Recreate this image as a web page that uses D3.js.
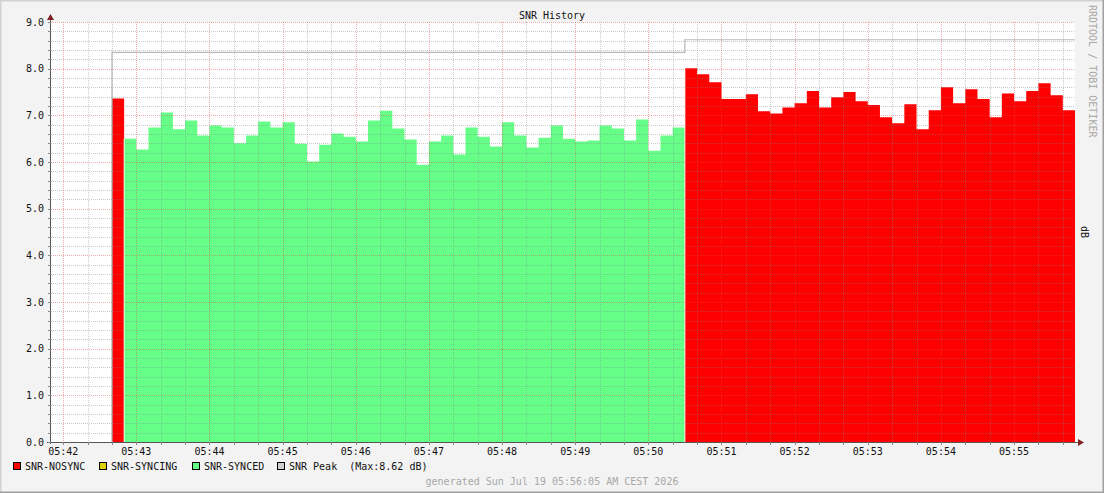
<!DOCTYPE html>
<html><head><meta charset="utf-8">
<script src="https://cdn.jsdelivr.net/npm/d3@7"></script>
<style>
html,body{margin:0;padding:0;background:#f3f3f3;}
svg{display:block;font-family:"DejaVu Sans Mono",monospace;}
</style></head><body>
<svg id="chart" width="1104" height="493"></svg>
<script>
// ---------------- data ----------------
const chartTitle = "SNR History";
const yAxisLabel = "dB";
const watermark = "RRDTOOL / TOBI OETIKER";
const footerText = "generated Sun Jul 19 05:56:05 AM CEST 2026";
const timeDomain = ["05:41:50", "05:55:50"];
const stepSeconds = 10;

const nosyncFirstStart = "05:42:40";
const nosyncFirstValues = [7.36];

const syncedStart = "05:42:50";
const syncedValues = [6.50, 6.27, 6.74, 7.06, 6.70, 6.89, 6.57, 6.78, 6.74, 6.40,
  6.57, 6.87, 6.74, 6.85, 6.39, 6.01, 6.37, 6.61, 6.54, 6.44,
  6.89, 7.10, 6.72, 6.48, 5.94, 6.44, 6.57, 6.16, 6.74, 6.54,
  6.33, 6.85, 6.57, 6.31, 6.52, 6.78, 6.50, 6.44, 6.46, 6.78,
  6.72, 6.46, 6.91, 6.24, 6.57, 6.74];

const nosyncSecondStart = "05:50:30";
const nosyncSecondValues = [8.01, 7.88, 7.71, 7.35, 7.35, 7.45, 7.09, 7.04, 7.17, 7.26,
  7.52, 7.17, 7.39, 7.50, 7.30, 7.22, 6.96, 6.83, 7.24, 6.70,
  7.11, 7.60, 7.26, 7.56, 7.35, 6.96, 7.47, 7.30, 7.52, 7.69,
  7.43, 7.11];

const peakTimes = ["05:42:40", "05:50:30", "05:55:50"];
const peakValues = [8.35, 8.62, 8.62];
const peakMax = 8.62;

const yTickValues = [0, 1, 2, 3, 4, 5, 6, 7, 8, 9];
const legendLabels = ["SNR-NOSYNC", "SNR-SYNCING", "SNR-SYNCED", "SNR Peak  (Max:" + peakMax.toFixed(2) + " dB)"];

// ---------------- styles ----------------
const colNosync = "#ff0000", colSyncing = "#dcd200", colSynced = "#66ff88", colPeak = "#b8b8b8";
const legendColors = [colNosync, colSyncing, colSynced, "#cfcfcf"];

const W = 1104, H = 493;
const plot = {l: 51, r: 1075, t: 22, b: 442};

const svg = d3.select("#chart");
const parse = d3.timeParse("%H:%M:%S");
const x = d3.scaleTime().domain(timeDomain.map(parse)).range([plot.l, plot.r]);
const y = d3.scaleLinear().domain([0, 9]).range([plot.b, plot.t]);

// background + 3d frame
svg.append("rect").attr("width", W).attr("height", H).attr("fill", "#f3f3f3");
svg.append("path").attr("d", `M0,${H} V0 H${W}`).attr("fill", "none").attr("stroke", "#d2d2d2").attr("stroke-width", 3);
svg.append("path").attr("d", `M0,${H} H${W} V0`).attr("fill", "none").attr("stroke", "#a0a0a0").attr("stroke-width", 3);

// canvas
svg.append("rect").attr("x", plot.l).attr("y", plot.t).attr("width", plot.r - plot.l).attr("height", plot.b - plot.t).attr("fill", "#ffffff");

// series built into step points
function series(start, values) {
  const t0 = parse(start);
  const pts = values.map((v, i) => ({t: d3.timeSecond.offset(t0, i * stepSeconds), v}));
  pts.push({t: d3.timeSecond.offset(t0, values.length * stepSeconds), v: values[values.length - 1]});
  return pts;
}
const area = d3.area().curve(d3.curveStepAfter).x(d => x(d.t)).y0(y(0)).y1(d => y(d.v));

const segs = [[nosyncFirstStart, nosyncFirstValues, colNosync],
 [syncedStart, syncedValues, colSynced],
 [nosyncSecondStart, nosyncSecondValues, colNosync]];
segs.forEach(([s, vals, c]) => {
  svg.append("path").datum(series(s, vals)).attr("d", area).attr("fill", c);
});
// thin separation where the state changes
svg.selectAll(".sep").data(segs.slice(1)).join("line")
  .attr("x1", d => x(parse(d[0]))).attr("x2", d => x(parse(d[0])))
  .attr("y1", d => y(0)).attr("y2", d => y(d3.max([d[1][0]])))
  .attr("stroke", "#ffffff").attr("stroke-width", 1).attr("stroke-opacity", 0.85);

// peak line
const peakPts = [{t: parse(peakTimes[0]), v: 0}].concat(peakTimes.map((t, i) => ({t: parse(t), v: peakValues[i]})));
svg.append("path").datum(peakPts)
  .attr("d", d3.line().curve(d3.curveStepAfter).x(d => x(d.t)).y(d => y(d.v)))
  .attr("fill", "none").attr("stroke", colPeak).attr("stroke-width", 1.2);

// grid
const minorCol = "rgba(130,130,130,0.42)", majorCol = "rgba(225,70,70,0.45)";
const grid = svg.append("g").attr("shape-rendering", "crispEdges");
const minorY = d3.range(0, 46).map(i => i * 0.2).filter(v => Math.abs(v - Math.round(v)) > 1e-6);
grid.selectAll(".hy").data(minorY).join("line")
  .attr("x1", plot.l).attr("x2", plot.r).attr("y1", d => Math.round(y(d)) + 0.5).attr("y2", d => Math.round(y(d)) + 0.5)
  .attr("stroke", minorCol).attr("stroke-dasharray", "1,1");
const minorX = x.ticks(d3.timeSecond.every(20)).filter(d => d.getSeconds() !== 0);
grid.selectAll(".vx").data(minorX).join("line")
  .attr("y1", plot.t).attr("y2", plot.b).attr("x1", d => Math.round(x(d)) + 0.5).attr("x2", d => Math.round(x(d)) + 0.5)
  .attr("stroke", minorCol).attr("stroke-dasharray", "1,1");
grid.selectAll(".my").data(yTickValues.filter(v => v > 0)).join("line")
  .attr("x1", plot.l).attr("x2", plot.r).attr("y1", d => Math.round(y(d)) + 0.5).attr("y2", d => Math.round(y(d)) + 0.5)
  .attr("stroke", majorCol).attr("stroke-dasharray", "1,1");
const majorX = x.ticks(d3.timeMinute.every(1));
grid.selectAll(".mx").data(majorX).join("line")
  .attr("y1", plot.t).attr("y2", plot.b).attr("x1", d => Math.round(x(d)) + 0.5).attr("x2", d => Math.round(x(d)) + 0.5)
  .attr("stroke", majorCol).attr("stroke-dasharray", "1,1");

// axes
const ax = svg.append("g").attr("shape-rendering", "crispEdges");
ax.append("line").attr("x1", plot.l - 0.5).attr("x2", plot.l - 0.5).attr("y1", plot.b + 2).attr("y2", plot.t - 5).attr("stroke", "#555");
ax.append("line").attr("x1", plot.l - 4).attr("x2", plot.r + 4).attr("y1", plot.b + 0.5).attr("y2", plot.b + 0.5).attr("stroke", "#555");
// ticks
ax.selectAll(".ty").data(minorY.concat(yTickValues)).join("line")
  .attr("x1", plot.l - 3).attr("x2", plot.l).attr("y1", d => Math.round(y(d)) + 0.5).attr("y2", d => Math.round(y(d)) + 0.5)
  .attr("stroke", "#888");
ax.selectAll(".tx").data(minorX.concat(majorX)).join("line")
  .attr("y1", plot.b).attr("y2", plot.b + 3).attr("x1", d => Math.round(x(d)) + 0.5).attr("x2", d => Math.round(x(d)) + 0.5)
  .attr("stroke", "#888");
// arrows
svg.append("path").attr("d", `M${plot.l - 4},${plot.t - 2} L${plot.l - 0.5},${plot.t - 8} L${plot.l + 3},${plot.t - 2} Z`).attr("fill", "#7f1f1f");
svg.append("path").attr("d", `M${plot.r + 3},${plot.b - 3} L${plot.r + 9},${plot.b + 0.5} L${plot.r + 3},${plot.b + 4} Z`).attr("fill", "#7f1f1f");

// labels
const txt = svg.append("g").attr("font-size", "10px").attr("fill", "#111");
txt.selectAll(".yl").data(yTickValues).join("text")
  .attr("x", plot.l - 7).attr("y", d => y(d) + 3.5).attr("text-anchor", "end").text(d => d.toFixed(1));
const fmt = d3.timeFormat("%H:%M");
txt.selectAll(".xl").data(majorX).join("text")
  .attr("x", d => x(d)).attr("y", plot.b + 13).attr("text-anchor", "middle").text(d => fmt(d));
txt.append("text").attr("x", W / 2).attr("y", 19).attr("text-anchor", "middle").text(chartTitle);
txt.append("text").attr("transform", `translate(1081,${(plot.t + plot.b) / 2}) rotate(90)`).attr("text-anchor", "middle").text(yAxisLabel);
txt.append("text").attr("transform", `translate(1089,5) rotate(90)`).attr("fill", "#a8a8a8").text(watermark);
txt.append("text").attr("x", W / 2).attr("y", 485).attr("text-anchor", "middle").attr("fill", "#a8a8a8").text(footerText);

// legend
const legX = [13, 99, 192, 277];
legendLabels.forEach((lab, i) => {
  svg.append("rect").attr("x", legX[i] + 0.5).attr("y", 462.5).attr("width", 7).attr("height", 7)
    .attr("fill", legendColors[i]).attr("stroke", "#000").attr("stroke-width", 1);
  txt.append("text").attr("x", legX[i] + 12).attr("y", 470).style("white-space", "pre").attr("xml:space", "preserve").text(lab);
});
</script>
</body></html>
